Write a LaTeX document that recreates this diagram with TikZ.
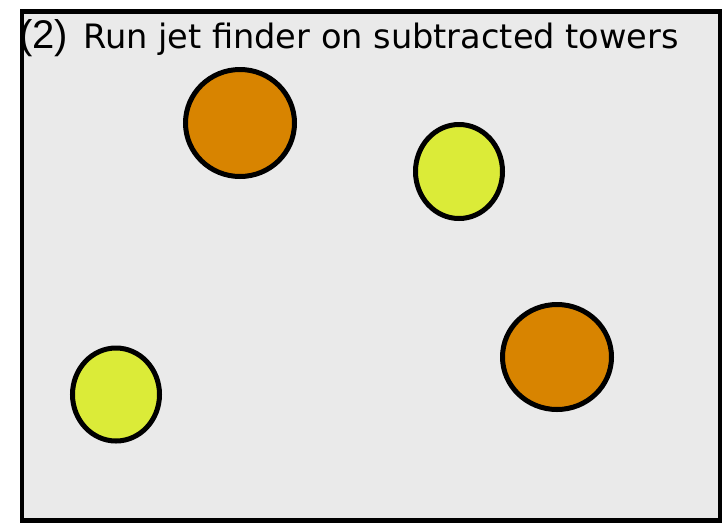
\documentclass[tikz,border=0pt]{standalone}
\usepackage{fontspec}
\setmainfont{DejaVu Sans}
\newfontfamily\numfont{Liberation Sans}
\definecolor{panelgray}{HTML}{EAEAEA}
\definecolor{jetorange}{HTML}{D88400}
\definecolor{jetyellow}{HTML}{DBEB38}
\begin{document}
\begin{tikzpicture}[x=1pt,y=-1pt,
  jet/.style={draw=black,line width=5pt}]
\useasboundingbox (0,0) rectangle (722,523);
% panel
\node[draw=black,line width=4.5pt,fill=panelgray,minimum width=698pt,minimum height=509pt,
      inner sep=0pt,anchor=north west] (panel) at (19.5,9) {};
% title
\node[anchor=base west,inner sep=0pt,font=\numfont\fontsize{40}{44}\selectfont] (num) at (19,48) {(2)};
\node[anchor=base west,inner sep=0pt,font=\fontsize{33.6}{40}\selectfont] (title) at (83,48) {Run jet finder on subtracted towers};
% jets
\draw[jet,fill=jetorange] (240,123) ellipse [x radius=54.5, y radius=53.5];
\draw[jet,fill=jetyellow] (459,171.5) ellipse [x radius=43.5, y radius=47];
\draw[jet,fill=jetorange] (557,357) ellipse [x radius=54.5, y radius=52.5];
\draw[jet,fill=jetyellow] (116,394.5) ellipse [x radius=43.5, y radius=46.5];
\end{tikzpicture}
\end{document}
